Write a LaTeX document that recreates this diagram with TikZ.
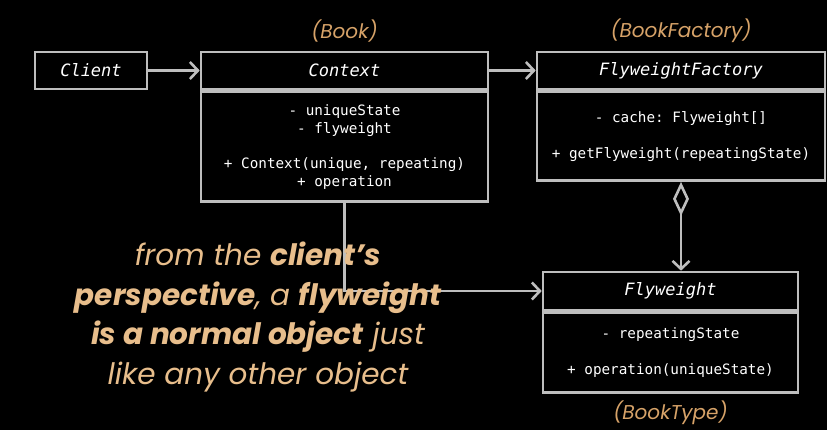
\documentclass[tikz,border=0pt]{standalone}
\usepackage{fontspec}
\setmainfont{Poppins}
\setmonofont{DejaVu Sans Mono}
\usetikzlibrary{arrows.meta, positioning}
\definecolor{linegray}{RGB}{190,190,190}
\definecolor{quotetan}{RGB}{232,190,140}
\definecolor{labeltan}{RGB}{214,162,104}

\begin{document}
\begin{tikzpicture}[
    x=1pt, y=-1pt,
    head/.style = {rectangle, draw=linegray, line width=2.6pt, fill=black, text=white, font=\ttfamily\itshape\fontsize{17}{20}\selectfont, minimum height=37pt, inner sep=0pt},
    body/.style = {rectangle, draw=linegray, line width=2.6pt, fill=black, text=white, font=\ttfamily\fontsize{14.3}{18}\selectfont, align=center, inner sep=0pt},
    tag/.style = {text=labeltan, font=\itshape\fontsize{20}{24}\selectfont, inner sep=0pt},
    conn/.style = {draw=linegray, line width=2.6pt, -{Straight Barb[length=8pt,width=17pt]}}
]
\fill[black] (0,0) rectangle (827,430);
\useasboundingbox (0,0) rectangle (827,430);

\node (client) [head, minimum width=112pt] at (91,70.5) {Client};

\node (ctxhead) [head, minimum width=287pt] at (344.5,70.5) {Context};
\node (ctxbody) [body, minimum width=287pt, minimum height=110pt, below=0pt of ctxhead] {- uniqueState\\- flyweight\\[17pt]+ Context(unique, repeating)\\+ operation};

\node (facthead) [head, minimum width=288pt] at (681,70.5) {FlyweightFactory};
\node (factbody) [body, minimum width=288pt, minimum height=89pt, below=0pt of facthead] {- cache: Flyweight[]\\[18pt]+ getFlyweight(repeatingState)};

\node (flyhead) [head, minimum width=255pt, minimum height=38pt] at (670.5,291) {Flyweight};
\node (flybody) [body, minimum width=255pt, minimum height=80pt, below=0pt of flyhead] {- repeatingState\\[18pt]+ operation(uniqueState)};

\node (booklbl) [tag, above=8pt of ctxhead] {(Book)};
\node (factlbl) [tag, above=8pt of facthead] {(BookFactory)};
\node (typelbl) [tag, below=7pt of flybody] {(BookType)};

\draw [conn] (client) -- (ctxhead);
\draw [conn] (ctxhead) -- (facthead);
\draw [conn, {Diamond[open,length=34pt,width=16pt]}-{Straight Barb[length=8pt,width=17pt]}] (factbody.south) -- (factbody.south |- flyhead.north);
\draw [conn] (ctxbody.south) |- (flyhead.west);

% quote over the connector
\node (quote) [text=quotetan, align=center, font=\itshape\fontsize{29.5}{39.5}\selectfont, inner sep=0pt] at (258,317)
    {from the \textbf{client’s}\\\textbf{perspective}, a \textbf{flyweight}\\\textbf{is a normal object} just\\like any other object};

\end{tikzpicture}
\end{document}
